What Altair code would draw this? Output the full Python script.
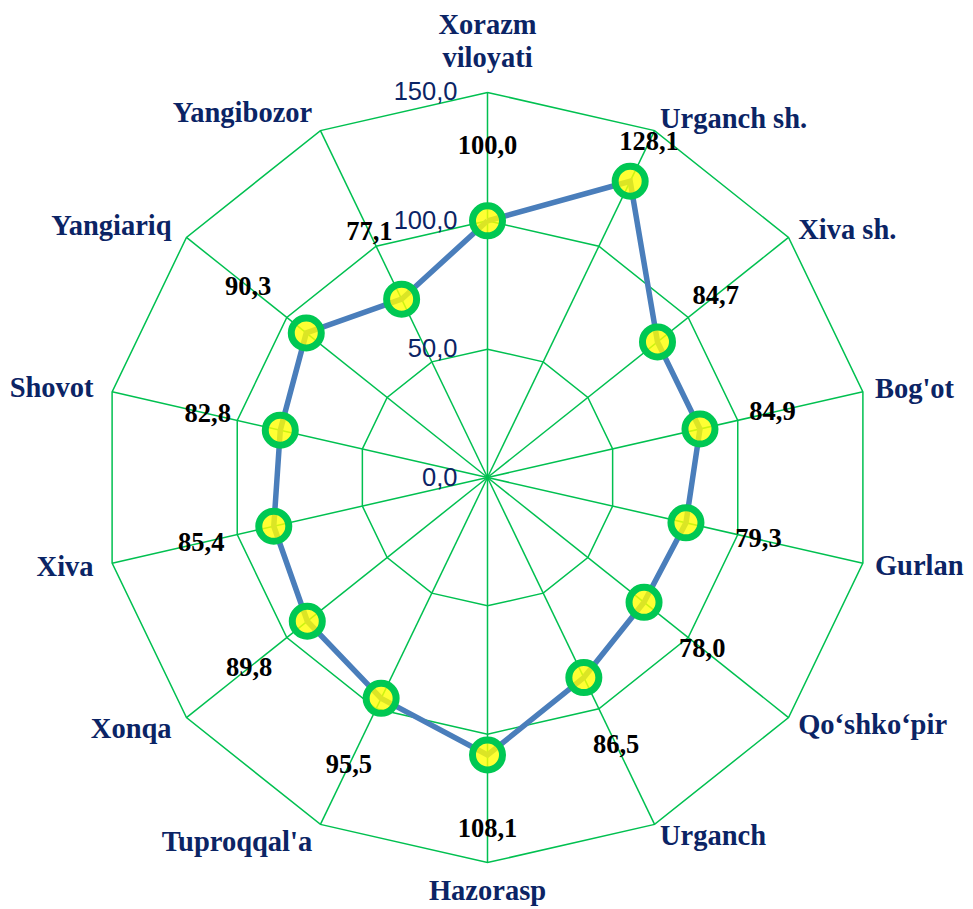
import math
import altair as alt
import pandas as pd

categories = ["Xorazm\nviloyati", "Urganch sh.", "Xiva sh.", "Bog'ot", "Gurlan",
              "Qo‘shko‘pir", "Urganch", "Hazorasp", "Tuproqqal'a", "Xonqa",
              "Xiva", "Shovot", "Yangiariq", "Yangibozor"]
values = [100.0, 128.1, 84.7, 84.9, 79.3, 78.0, 86.5, 108.1, 95.5, 89.8,
          85.4, 82.8, 90.3, 77.1]
ticks = [0, 50, 100, 150]
tick_labels = ["0,0", "50,0", "100,0", "150,0"]

n = len(categories)
rmax = max(ticks)


def ang(i):
    return 2 * math.pi * i / n


# grid rings
ring_rows = []
for t in ticks[1:]:
    for k in range(n + 1):
        i = k % n
        ring_rows.append({"ring": t, "k": k,
                          "x": t * math.sin(ang(i)), "y": t * math.cos(ang(i))})
rings = pd.DataFrame(ring_rows)

spokes = pd.DataFrame([{"x": 0.0, "y": 0.0,
                        "x2": rmax * math.sin(ang(i)), "y2": rmax * math.cos(ang(i))}
                       for i in range(n)])

series_rows = []
for k in range(n + 1):
    i = k % n
    v = values[i]
    series_rows.append({"k": k, "v": v, "x": v * math.sin(ang(i)), "y": v * math.cos(ang(i))})
series = pd.DataFrame(series_rows)

pts = series.iloc[:n].copy()
pts["lab"] = [f"{v:.1f}".replace(".", ",") for v in values]
lr = [min(v + 29, 145) for v in values]
pts["lx"] = [r * math.sin(ang(i)) for i, r in enumerate(lr)]
pts["ly"] = [r * math.cos(ang(i)) for i, r in enumerate(lr)]

s = [math.sin(ang(i)) for i in range(n)]
c = [math.cos(ang(i)) for i in range(n)]
grp = ["left" if s[i] > 0.1 else ("right" if s[i] < -0.1 else ("top" if c[i] > 0 else "bottom"))
       for i in range(n)]
cat_r = {"left": 154.8, "right": 157.4, "top": 172.8, "bottom": 164.6}
cats = pd.DataFrame({
    "name": categories,
    "grp": grp,
    "x": [cat_r[grp[i]] * s[i] for i in range(n)],
    "y": [cat_r[grp[i]] * c[i] for i in range(n)],
})

tk = pd.DataFrame({"x": [0.0] * len(ticks), "y": ticks, "lab": tick_labels})

W, H = 957, 899
PX = 2.567
xdom = [-479.5 / PX, (W - 479.5) / PX]
ydom = [-(H - 469.5) / PX, 469.5 / PX]
X = lambda f="x": alt.X(f"{f}:Q", scale=alt.Scale(domain=xdom, nice=False, zero=False), axis=None)
Y = lambda f="y": alt.Y(f"{f}:Q", scale=alt.Scale(domain=ydom, nice=False, zero=False), axis=None)

GREEN = "#00C050"
NAVY = "#0B2465"

ring_layer = alt.Chart(rings).mark_line(color=GREEN, strokeWidth=1.5).encode(
    x=X(), y=Y(), detail="ring:N", order="k:Q")
spoke_layer = alt.Chart(spokes).mark_rule(color=GREEN, strokeWidth=1.5).encode(
    x=X(), y=Y(), x2="x2:Q", y2="y2:Q")
line_layer = alt.Chart(series).mark_line(color="#4A7EBB", strokeWidth=5.5).encode(
    x=X(), y=Y(), order="k:Q")
point_layer = alt.Chart(pts).mark_point(
    shape="circle", size=900, filled=False, fill="#FFFF00", fillOpacity=0.8,
    stroke="#00C853", strokeWidth=7, opacity=1).encode(x=X(), y=Y())
val_layer = alt.Chart(pts).mark_text(
    font="Liberation Serif", fontWeight="bold", fontSize=26.5, color="black",
    align="center", baseline="middle").encode(x=X("lx"), y=Y("ly"), text="lab:N")
tick_layer = alt.Chart(tk).mark_text(
    font="Liberation Sans", fontSize=25.5, color=NAVY, align="right",
    baseline="middle", dx=-30).encode(x=X(), y=Y(), text="lab:N")


def cat_layer(g, align, baseline):
    return alt.Chart(cats).transform_filter(alt.datum.grp == g).mark_text(
        font="Liberation Serif", fontWeight="bold", fontSize=28.5, color=NAVY,
        align=align, baseline=baseline, lineBreak="\n", lineHeight=33).encode(
        x=X(), y=Y(), text="name:N")


chart = alt.layer(
    ring_layer, spoke_layer, line_layer, point_layer, val_layer, tick_layer,
    cat_layer("left", "left", "middle"),
    cat_layer("right", "right", "middle"),
    cat_layer("top", "center", "alphabetic"),
    cat_layer("bottom", "center", "alphabetic"),
).properties(
    width=W, height=H, padding=0, autosize=alt.AutoSizeParams(type="none")
).configure_view(stroke=None)

chart.save("out.html", embed_options={"renderer": "svg", "actions": False})
